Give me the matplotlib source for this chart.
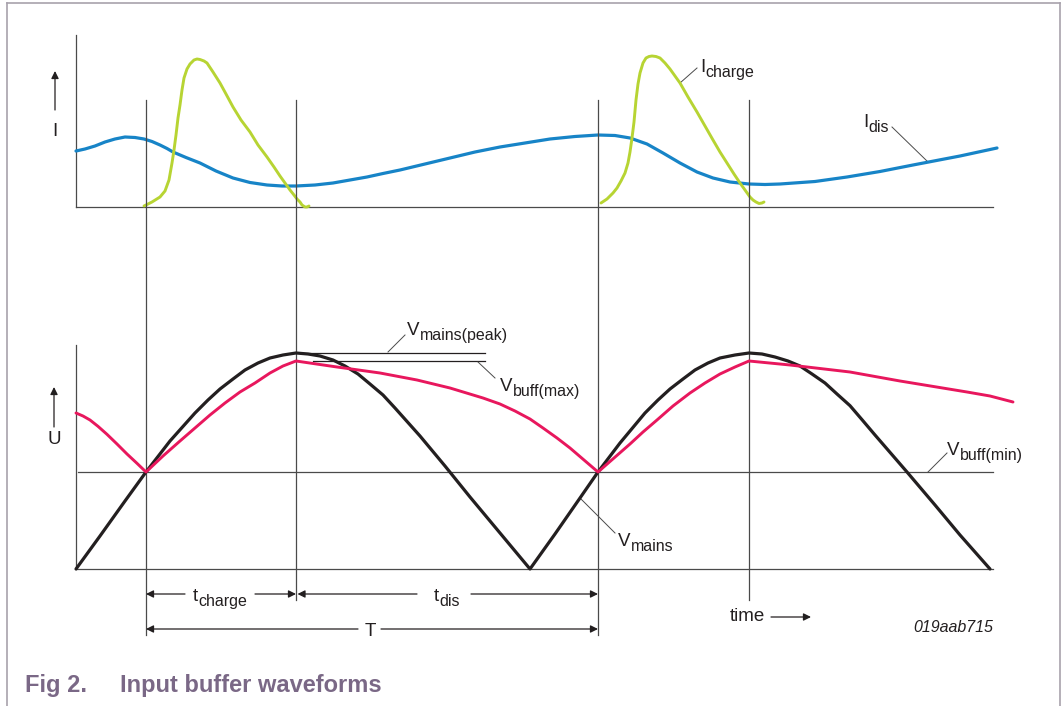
"""
Input buffer waveforms: mains voltage, buffer capacitor voltage and the
charge / discharge currents, redrawn as a schematic timing diagram.
"""
import matplotlib
matplotlib.use("Agg")
import matplotlib.pyplot as plt
from matplotlib.lines import Line2D

plt.rcParams["font.family"] = ["Liberation Sans", "DejaVu Sans"]

# ── DATA (time in arbitrary units, U in V, I in A) ──────────────────
# rectified mains voltage
t_mains = [0, 4.8, 9.8, 14, 18.8, 23.8, 26.4, 28.8, 31.4, 33.8, 36.4, 38.8,
           41.4, 44, 46.4, 48.8, 51.4, 53.8, 56.4, 58.8, 61.4, 63.8, 68.8,
           73.8, 78.8, 84.8, 90.8,
           95.8, 100.8, 104.4, 108.8, 113.8, 116.4, 118.8, 121.4, 123.8,
           126.4, 128.8, 131.8, 134.6, 137.2, 139.8, 142.4, 144.8, 147.2,
           149.8, 152.2, 154.8, 157.2, 159.8, 166.2, 171.8, 176.8, 182.8]
u_mains = [0, 49.5, 102, 145.5, 192, 234, 253.5, 270, 285, 298.5, 309, 316.5,
           321, 324, 322.5, 319.5, 313.5, 304.5, 292.5, 277.5, 261, 241.5,
           199.5, 154.5, 108, 54, 0,
           52.5, 106.5, 145.5, 189, 234, 253.5, 270, 285, 298.5,
           309, 316.5, 321, 324, 322.5, 318, 312, 304.5, 292.5,
           279, 262.5, 245, 224, 201, 145.5, 96, 51, 0]

# buffer capacitor voltage
t_buff = [0, 1.4, 2.8, 4.4, 6.2, 8.2, 10.2, 12.2, 14, 17.4, 20.8, 23.8, 26.8,
          29.8, 32.8, 35.8, 38.8, 41.4, 44, 52.2, 60.8, 68.2, 74.8, 81.4,
          84.8, 87.8, 90.8, 93.4, 96.2, 98.8, 101.6, 104.4, 107.6, 110.8,
          113.4, 116.2, 119.4, 122.8, 125.8, 128.8, 131.8, 134.6, 142.8,
          154.8, 164.8, 178.2, 182.8, 187.4]
u_buff = [234, 229.5, 223.5, 214, 202, 187.5, 172.5, 158.5, 145.5, 169.5, 192,
          211.5, 231, 249, 265.5, 279, 294, 304.5, 312, 303, 294, 283.5,
          271.5, 256.5, 247.5, 237, 225, 211.5, 196.5, 181.5, 163.5, 145.5,
          166.5, 187.5, 205.5, 223.5, 244.5, 264, 279, 292.5, 303, 312, 306,
          295.5, 282, 265.5, 259.5, 250.5]

# discharge current
t_dis = [0, 1.8, 3.8, 5.8, 7.8, 9.8, 11.8, 13.6, 15.2, 16.8, 18.2, 19.4, 22,
         24.8, 28, 31.4, 34.8, 38.2, 41.2, 44, 47.8, 51.4, 54.8, 58.2, 61.4,
         64.8, 69.8, 74.8, 79.8, 84.8, 89.8, 94.8, 99.8, 104.4, 107.8, 110.8,
         114.2, 117.4, 120.8, 124.2, 127.4, 130.8, 134.6, 137.8, 140.8,
         147.8, 154.2, 160.8, 167.4, 176.8, 184.2]
i_dis = [0.56, 0.58, 0.61, 0.65, 0.68, 0.70, 0.695, 0.68, 0.655, 0.62, 0.585,
         0.55, 0.495, 0.44, 0.36, 0.29, 0.245, 0.22, 0.21, 0.21, 0.22, 0.24,
         0.27, 0.30, 0.335, 0.37, 0.43, 0.49, 0.55, 0.60, 0.64, 0.68, 0.705,
         0.72, 0.715, 0.69, 0.63, 0.54, 0.44, 0.35, 0.29, 0.25, 0.23, 0.225,
         0.23, 0.255, 0.30, 0.355, 0.42, 0.51, 0.59]

# charge current pulses
t_chg1 = [13.6, 15.2, 16.8, 17.8, 18.6, 19.2, 19.6, 20, 20.4, 20.8, 21.2,
          21.6, 22.2, 22.8, 23.6, 24.2, 24.8, 25.6, 26.2, 27.4, 28.8, 30,
          31.4, 33, 34.8, 36.4, 38.2, 39.6, 40.8, 41.8, 42.8, 43.6, 44.2,
          44.8, 45.2, 45.8, 46.2, 46.6]
i_chg1 = [0.01, 0.05, 0.10, 0.16, 0.27, 0.44, 0.57, 0.72, 0.89, 1.02, 1.17,
          1.29, 1.38, 1.43, 1.47, 1.48, 1.475, 1.46, 1.44, 1.35, 1.24, 1.13,
          1.00, 0.87, 0.75, 0.62, 0.50, 0.40, 0.31, 0.24, 0.17, 0.12, 0.08,
          0.05, 0.02, 0.00, 0.00, 0.01]
t_chg2 = [105, 106.2, 107.4, 108.2, 109, 109.8, 110.4, 110.8, 111.2, 111.6,
          112, 112.4, 112.8, 113.4, 114, 114.6, 115.2, 116, 116.8, 117.8,
          118.8, 119.8, 120.8, 122.4, 124.2, 125.8, 127.4, 128.8, 130.2,
          131.6, 132.8, 133.8, 134.8, 135.4, 136, 136.6, 137.2, 137.6]
i_chg2 = [0.04, 0.08, 0.14, 0.19, 0.26, 0.34, 0.44, 0.55, 0.69, 0.85, 1.07,
          1.23, 1.34, 1.44, 1.49, 1.505, 1.51, 1.505, 1.49, 1.44, 1.38, 1.31,
          1.24, 1.10, 0.95, 0.81, 0.67, 0.55, 0.44, 0.33, 0.24, 0.17, 0.10,
          0.07, 0.05, 0.035, 0.04, 0.05]

# levels and instants
U_PEAK = 324
U_BUFF_MAX = 312
U_BUFF_MIN = 145.5
T_END = 183.4
T_MARKS = [14, 44, 104.4, 134.6]          # start/end of charge, next cycle
# ────────────────────────────────────────────────────────────────────

BLACK = "#231f20"
GREY = "#4a4a4a"
GREEN = "#b7d433"
BLUE = "#1784c7"
RED = "#e8175d"
PURPLE = "#7a6886"
FS = 13.5
FS_SUB = 11.5

fig = plt.figure(figsize=(10.63, 7.06), dpi=100)
ax_i = fig.add_axes([0, 0, 1, 1])
ax_u = fig.add_axes([0, 0, 1, 1])
for ax in (ax_i, ax_u):
    ax.set_xlim(-15.2, 197.4)
    ax.axis("off")
    ax.patch.set_alpha(0)
ax_i.set_ylim(-4.99, 2.07)
ax_u.set_ylim(-205.5, 853.5)

thin = dict(color=GREY, lw=0.9)
curve = dict(solid_joinstyle="round", solid_capstyle="round")


def sub_label(ax, x, y, main, sub):
    txt = ax.text(x, y, main, fontsize=FS, color=BLACK, ha="left", va="baseline")
    ax.annotate(sub, xy=(1.0, y), xycoords=(txt, "data"), xytext=(0.3, -3.5),
                textcoords="offset points", fontsize=FS_SUB, color=BLACK,
                ha="left", va="baseline")


def arrow(ax, tip, tail):
    ax.annotate("", xy=tip, xytext=tail,
                arrowprops=dict(arrowstyle="-|>", color=BLACK, lw=0.9,
                                mutation_scale=11, shrinkA=0, shrinkB=0))


# ── current panel ──
ax_i.plot([0, 0], [1.72, 0], **thin)
ax_i.plot([0, T_END], [0, 0], **thin)
ax_i.plot(t_dis, i_dis, color=BLUE, lw=2.3, zorder=3, **curve)
ax_i.plot(t_chg1, i_chg1, color=GREEN, lw=2.1, zorder=4, **curve)
ax_i.plot(t_chg2, i_chg2, color=GREEN, lw=2.1, zorder=4, **curve)
ax_i.text(-4.2, 0.76, "I", fontsize=FS, color=BLACK, ha="center", va="center")
arrow(ax_i, (-4.2, 1.36), (-4.2, 0.97))
ax_i.plot([120.8, 124.2], [1.24, 1.39], color=GREY, lw=0.7)
sub_label(ax_i, 124.8, 1.35, "I", "charge")
ax_i.plot([163.2, 170.4], [0.80, 0.45], color=GREY, lw=0.7)
sub_label(ax_i, 157.4, 0.80, "I", "dis")

# ── voltage panel ──
ax_u.plot([0, 0], [336, 0], **thin)
ax_u.plot([0, T_END], [0, 0], **thin)
ax_u.plot([0.4, T_END], [U_BUFF_MIN, U_BUFF_MIN], **thin)
ax_u.plot([44.8, 81.8], [U_PEAK, U_PEAK], color=BLACK, lw=0.9)
ax_u.plot([47.4, 81.8], [U_BUFF_MAX, U_BUFF_MAX], color=BLACK, lw=0.9)
for i, t in enumerate(T_MARKS):
    bottom = -99 if i in (0, 2) else -46.5
    ax_u.plot([t, t], [704, bottom], **thin)
ax_u.plot(t_mains, u_mains, color=BLACK, lw=2.3, zorder=3, **curve)
ax_u.plot(t_buff, u_buff, color=RED, lw=2.1, zorder=4, **curve)

ax_u.text(-4.4, 193.5, "U", fontsize=FS, color=BLACK, ha="center", va="center")
arrow(ax_u, (-4.4, 273), (-4.4, 213))

ax_u.plot([62.4, 65.8], [325.5, 351], color=GREY, lw=0.7)
sub_label(ax_u, 66.2, 351, "V", "mains(peak)")
ax_u.plot([80.4, 83.8], [310.5, 286.5], color=GREY, lw=0.7)
sub_label(ax_u, 84.8, 267, "V", "buff(max)")
ax_u.plot([170.4, 174.2], [145.5, 174], color=GREY, lw=0.7)
sub_label(ax_u, 174.2, 171, "V", "buff(min)")
ax_u.plot([100.8, 107.8], [106.5, 54], color=GREY, lw=0.7)
sub_label(ax_u, 108.4, 34.5, "V", "mains")

# dimension arrows
y_tc = -37.5
arrow(ax_u, (T_MARKS[0], y_tc), (21.8, y_tc))
arrow(ax_u, (T_MARKS[1], y_tc), (35.8, y_tc))
sub_label(ax_u, 23.4, -48, "t", "charge")
arrow(ax_u, (T_MARKS[1] + 0.3, y_tc), (68.2, y_tc))
arrow(ax_u, (T_MARKS[2], y_tc), (79, y_tc))
sub_label(ax_u, 71.6, -48, "t", "dis")
y_T = -90
arrow(ax_u, (T_MARKS[0], y_T), (56.4, y_T))
arrow(ax_u, (T_MARKS[2], y_T), (61, y_T))
ax_u.text(58.8, -100.5, "T", fontsize=FS, color=BLACK, ha="center", va="baseline")

ax_u.text(130.8, -78, "time", fontsize=FS, color=BLACK, ha="left", va="baseline")
arrow(ax_u, (147, -72), (139, -72))
ax_u.text(167.4, -94.5, "019aab715", fontsize=11.5, style="italic",
          color=BLACK, ha="left", va="baseline")

# ── frame and caption ──
frame = "#a8a2ac"
fig.add_artist(Line2D([0.0066, 0.0066], [0, 0.9958], color=frame, lw=1.2))
fig.add_artist(Line2D([0.9972, 0.9972], [0, 0.9958], color=frame, lw=1.2))
fig.add_artist(Line2D([0.0066, 0.9972], [0.9958, 0.9958], color=frame, lw=1.2))
fig.text(0.0235, 0.0198, "Fig 2.", fontsize=17, fontweight="bold",
         color=PURPLE, ha="left", va="baseline")
fig.text(0.1129, 0.0198, "Input buffer waveforms", fontsize=17,
         fontweight="bold", color=PURPLE, ha="left", va="baseline")

fig.savefig("out.png", dpi=100)
